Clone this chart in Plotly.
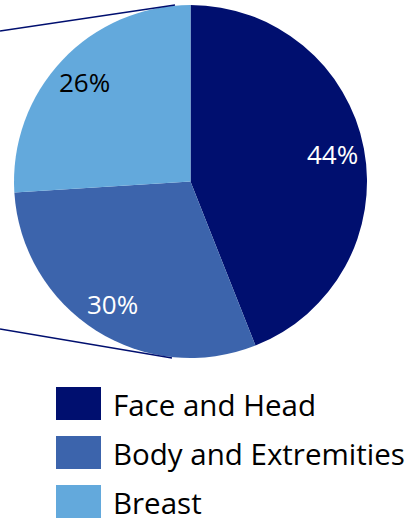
import math
import plotly.graph_objects as go

categories = ["Face and Head", "Body and Extremities", "Breast"]
values = [44, 30, 26]
colors = ["#000F6F", "#3C64AC", "#63A9DC"]
label_colors = ["white", "white", "black"]

W, H = 406, 522
def px(x): return x / W
def py(y): return 1 - y / H

# pie geometry (pixels)
left, right, top, bottom = 14, 367, 5, 358
cx, cy = (left + right) / 2, (top + bottom) / 2
r = (right - left) / 2

fig = go.Figure()
fig.add_trace(go.Pie(
    labels=categories, values=values, sort=False, direction="clockwise",
    rotation=0, marker=dict(colors=colors, line=dict(width=0)),
    textinfo="none", hoverinfo="label+percent", showlegend=False,
    domain=dict(x=[px(left), px(right)], y=[py(bottom), py(top)]),
))

annotations = []
total = sum(values)
cum = 0
for cat, v, lc in zip(categories, values, label_colors):
    mid = (cum + v / 2) / total * 2 * math.pi
    cum += v
    lx = cx + 0.82 * r * math.sin(mid)
    ly = cy - 0.82 * r * math.cos(mid)
    annotations.append(dict(
        x=px(lx), y=py(ly), xref="paper", yref="paper", showarrow=False,
        text=f"{round(v / total * 100)}%", xanchor="center", yanchor="middle",
        font=dict(family="Open Sans", size=26, color=lc)))

shapes = [
    dict(type="line", xref="paper", yref="paper", x0=px(0), y0=py(31), x1=px(175), y1=py(5),
         line=dict(color="#000F6F", width=1.5)),
    dict(type="line", xref="paper", yref="paper", x0=px(0), y0=py(329), x1=px(172), y1=py(358),
         line=dict(color="#000F6F", width=1.5)),
]

# legend
row_tops = [387, 436, 485]
for cat, col, t in zip(categories, colors, row_tops):
    shapes.append(dict(type="rect", xref="paper", yref="paper", x0=px(56), x1=px(101),
                       y0=py(t + 33), y1=py(t), fillcolor=col, line=dict(width=0)))
    annotations.append(dict(x=px(111), y=py(t + 17), xref="paper", yref="paper", showarrow=False,
                            text=cat, xanchor="left", yanchor="middle",
                            font=dict(family="Open Sans", size=29.5, color="black")))

fig.update_layout(width=W, height=H, margin=dict(l=0, r=0, t=0, b=0),
                  paper_bgcolor="white", plot_bgcolor="white",
                  shapes=shapes, annotations=annotations)
fig.write_html("out.html", config={"displayModeBar": False},
               post_script="document.body.style.margin='0';document.body.style.overflow='hidden';")
